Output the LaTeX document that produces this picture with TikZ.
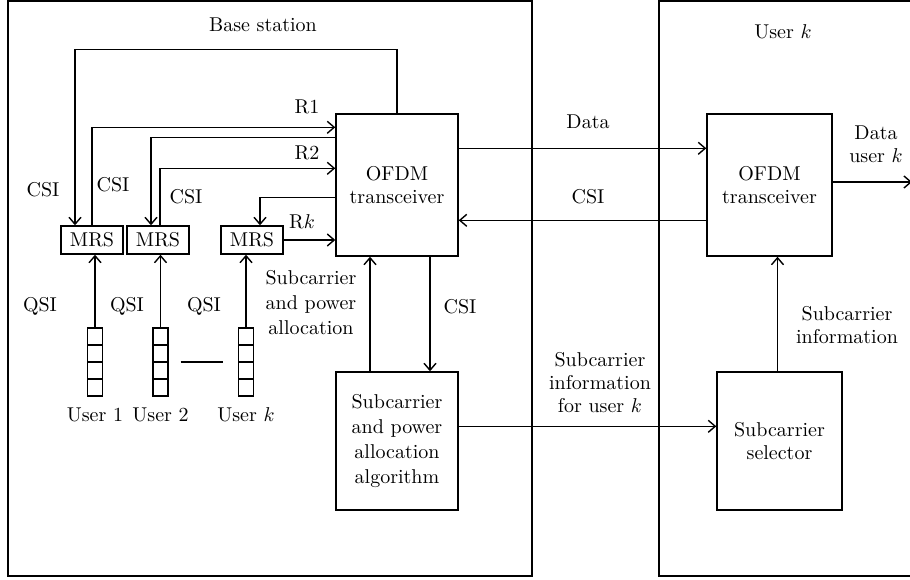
\documentclass[tikz,border=0pt]{standalone}
\usepackage{tikz}
\usetikzlibrary{positioning, arrows.meta}

\tikzset{
  blk/.style={draw, align=center, inner sep=0pt, font=\fontsize{10}{11.5}\selectfont},
  txt/.style={align=center, inner sep=0pt, font=\fontsize{10}{11.5}\selectfont},
  mrs/.style={blk, minimum width=31pt, minimum height=14pt},
  queue/.style={draw, minimum width=7.5pt, minimum height=34pt, inner sep=0pt,
    path picture={\foreach \c in {1,2,3}
      \draw ([yshift=-\c*8.5pt]path picture bounding box.north west) -- ([yshift=-\c*8.5pt]path picture bounding box.north east);}}
}

\begin{document}
\begin{tikzpicture}[x=0.5pt, y=-0.5pt, line width=0.7pt, >={Straight Barb[length=3.5pt,width=6pt]}]
\useasboundingbox (0,0) rectangle (910,579);

% frames
\node[blk, minimum width=262pt, minimum height=287.5pt] (bs) at (270,288.5) {};
\node[blk, minimum width=151.5pt, minimum height=287.5pt] (uk) at (810.5,288.5) {};
\node[txt] (bslab) at (263,25) {Base station};
\node[txt] (uklab) at (783,32) {User $k$};

% base station
\node[blk, minimum width=61pt, minimum height=71pt] (ofdm) at (397,185) {OFDM\\transceiver};
\node[blk, minimum width=61pt, minimum height=69pt, font=\fontsize{10}{12.5}\selectfont] (algo) at (397,441) {Subcarrier\\and power\\allocation\\algorithm};

\foreach \n/\x/\qx/\u in {1/92/95/1, 2/158/160.5/2, k/252/246/$k$}{
  \node[mrs] (mrs\n) at (\x,240) {MRS};
  \node[queue] (q\n) at (\qx,362) {};
  \node[txt] (user\n) at (\qx,415) {User \u};
  \draw[->] (q\n.north) -- (q\n.north |- mrs\n.south);
}
\draw ([xshift=6pt]q2.east) -- ([xshift=-7.5pt]qk.west);

\draw[->] (ofdm.north) -- ++(0,-64) -| ([xshift=-8.5pt]mrs1.north);
\draw[->] (mrs1.north) |- ([yshift=-7pt]ofdm.north west);
\draw[->] ([yshift=-12pt]ofdm.north west) -| ([xshift=-3.5pt]mrs2.north);
\draw[->] ([xshift=1pt]mrs2.north) |- ([yshift=-27.5pt]ofdm.north west);
\draw[->] ([yshift=-42pt]ofdm.north west) -| ([xshift=4pt]mrsk.north);
\draw[->] (mrsk.east) -- (mrsk.east -| ofdm.west);
\draw[->] ([xshift=16.5pt]ofdm.south) -- ([xshift=16.5pt]algo.north);
\draw[->] ([xshift=-13.5pt]algo.north) -- ([xshift=-13.5pt]ofdm.south);

\node[txt] (r1) at (307,107) {R1};
\node[txt] (r2) at (307,153) {R2};
\node[txt] (rk) at (302,222) {R$k$};
\node[txt] (csi1) at (43,190) {CSI};
\node[txt] (csi2) at (113,185) {CSI};
\node[txt] (csi3) at (186,197) {CSI};
\node[txt] (qsi1) at (40,306) {QSI};
\node[txt] (qsi2) at (127,306) {QSI};
\node[txt] (qsi3) at (204,306) {QSI};
\node[txt, font=\fontsize{10}{12.5}\selectfont] (alloc) at (311,303) {Subcarrier\\and power\\allocation};
\node[txt] (csi4) at (460,307) {CSI};

% user k
\node[blk, minimum width=62.5pt, minimum height=71pt] (uofdm) at (769.5,185) {OFDM\\transceiver};
\node[blk, minimum width=62.5pt, minimum height=69pt] (sel) at (779.5,441) {Subcarrier\\selector};
\coordinate (out) at (912,182);

\draw[->] ([yshift=-17.5pt]ofdm.north east) -- ([yshift=-17.5pt]uofdm.north west);
\draw[->] ([yshift=-53.5pt]uofdm.north west) -- ([yshift=-53.5pt]ofdm.north east);
\draw[->] (uofdm.east |- out) -- (out);
\draw[->] ([xshift=-1pt]sel.north) -- ([xshift=-1pt]sel.north |- uofdm.south);
\draw[->] ([yshift=-27.5pt]algo.north east) -- ([yshift=-27.5pt]sel.north west);

\node[txt] (data) at (588,122) {Data};
\node[txt] (csi5) at (588,197) {CSI};
\node[txt] (datak) at (876,144) {Data\\user $k$};
\node[txt] (info) at (600,383) {Subcarrier\\information\\for user $k$};
\node[txt] (selinfo) at (847,325) {Subcarrier\\information};
\end{tikzpicture}
\end{document}
